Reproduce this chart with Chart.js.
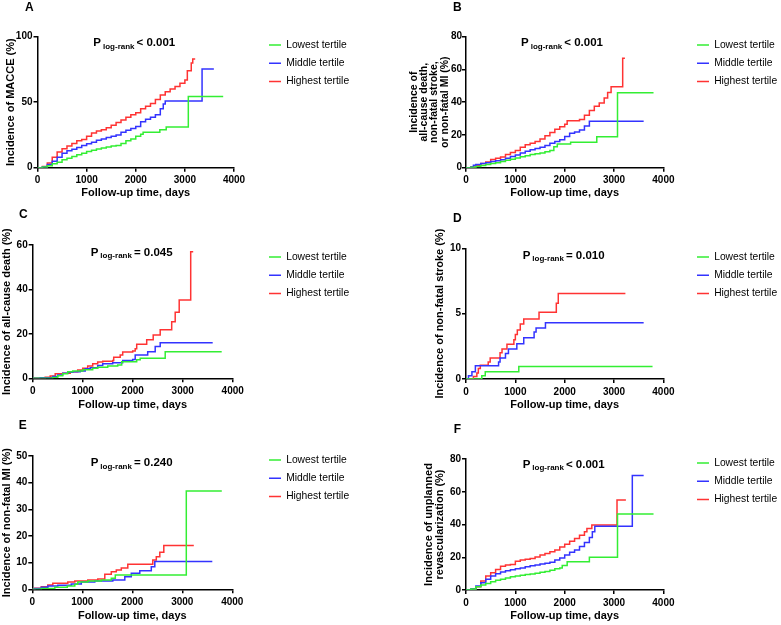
<!DOCTYPE html>
<html>
<head>
<meta charset="utf-8">
<script src="https://cdn.jsdelivr.net/npm/chart.js@4/dist/chart.umd.min.js"></script>
<style>
  html, body { margin: 0; padding: 0; background: #fff; overflow: hidden; width: 781px; height: 625px; position: relative; }
  canvas { position: absolute; }
</style>
</head>
<body>
<canvas id="cA"></canvas>
<canvas id="cB"></canvas>
<canvas id="cC"></canvas>
<canvas id="cD"></canvas>
<canvas id="cE"></canvas>
<canvas id="cF"></canvas>
<script>
/* data: days of each step, cumulative incidence (%) after the step */
// A - MACCE
var aLowDays = [0, 100, 200, 300, 400, 500, 600, 700, 800, 900, 1000, 1100, 1200, 1300, 1400, 1500, 1600, 1700, 1800, 1900, 2000, 2100, 2150, 2490, 2620, 3070, 3780];
var aLowPct  = [0, 0.5, 1.5, 3, 4.2, 6, 7.2, 8.5, 9.8, 11, 12.3, 13.3, 14.3, 15, 15.8, 16.5, 17, 18.5, 20.5, 22, 24, 25.5, 27, 29, 31, 54.3, 54.3];
var aMidDays = [0, 100, 200, 300, 400, 500, 600, 700, 800, 900, 1000, 1100, 1200, 1300, 1400, 1500, 1600, 1700, 1800, 1900, 2000, 2100, 2200, 2300, 2400, 2500, 2560, 2600, 3350, 3590];
var aMidPct  = [0, 0.8, 2.5, 5, 8, 11, 13, 14, 15.5, 17, 18.3, 19.5, 21, 22, 23, 24, 25, 27, 28.5, 30, 31.5, 35, 37, 38.5, 40.5, 45, 48.7, 51, 75.4, 75.4];
var aHighDays = [0, 100, 200, 300, 400, 500, 600, 700, 800, 900, 1000, 1100, 1200, 1300, 1400, 1500, 1600, 1700, 1800, 1900, 2000, 2100, 2200, 2300, 2400, 2500, 2600, 2700, 2800, 2900, 3000, 3050, 3130, 3160, 3210];
var aHighPct  = [0, 1, 3.5, 8, 12, 14.5, 16.5, 18.5, 20.5, 21.5, 24, 26.5, 28, 29, 30.5, 32.5, 34.5, 36.5, 38.5, 40.5, 42, 45, 47, 49, 52, 55.5, 58, 60, 62, 64.5, 67, 74, 80, 83, 83];

// B - all-cause death, non-fatal stroke or non-fatal MI
var bLowDays = [0, 100, 200, 300, 400, 500, 600, 700, 800, 900, 1000, 1100, 1200, 1300, 1400, 1500, 1600, 1700, 1780, 1850, 2120, 2650, 3070, 3800];
var bLowPct  = [0, 0.3, 0.8, 1.4, 2, 2.6, 3, 3.8, 4.5, 5.2, 6, 6.7, 7.3, 8, 8.5, 9, 9.8, 10.5, 12.8, 14.5, 15.5, 18.9, 45.8, 45.8];
var bMidDays = [0, 100, 150, 200, 300, 400, 500, 600, 700, 800, 900, 1000, 1100, 1200, 1300, 1400, 1500, 1600, 1700, 1800, 1900, 2000, 2100, 2200, 2300, 2400, 2500, 3600];
var bMidPct  = [0, 0.5, 1.5, 2, 2.5, 3, 3.8, 4.3, 4.8, 5.8, 6.8, 7.8, 9, 10, 11, 11.8, 12.5, 13.5, 15, 16, 17, 19, 21, 21.8, 23, 25.5, 28.3, 28.3];
var bHighDays = [0, 100, 200, 300, 400, 500, 600, 700, 800, 900, 1000, 1100, 1200, 1300, 1400, 1500, 1600, 1700, 1800, 1900, 2000, 2050, 2300, 2400, 2500, 2600, 2700, 2800, 2870, 2940, 3175, 3220];
var bHighPct  = [0, 0.5, 1.5, 2.5, 3.5, 5, 5.7, 6.5, 8, 9.3, 10.5, 12.5, 14, 15, 16, 17.5, 19.5, 21.5, 23.5, 25, 26.5, 28.7, 29.5, 32, 35, 37.5, 39.5, 42.5, 46, 49.5, 66.8, 66.8];

// C - all-cause death
var cLowDays = [0, 400, 500, 600, 700, 800, 1000, 1200, 1300, 1500, 1700, 1780, 2080, 2150, 2650, 3780];
var cLowPct  = [0, 0.4, 1.2, 2, 3, 3.3, 3.8, 4.5, 5, 5.5, 6, 7.5, 8.3, 9, 12, 12];
var cMidDays = [0, 150, 400, 500, 600, 700, 800, 950, 1050, 1150, 1300, 1400, 1600, 1800, 2000, 2050, 2300, 2450, 2550, 3600];
var cMidPct  = [0, 0.3, 0.8, 1.5, 2.3, 2.7, 3, 3.3, 4.3, 4.8, 5.8, 6.5, 7, 8, 8.5, 10.5, 12, 14.3, 16, 16];
var cHighDays = [0, 250, 350, 450, 600, 750, 900, 1000, 1100, 1200, 1300, 1400, 1600, 1620, 1750, 1800, 2000, 2050, 2080, 2280, 2410, 2550, 2780, 2850, 2930, 3160, 3210];
var cHighPct  = [0, 0.5, 1, 2, 2.3, 3, 3.7, 4.5, 5.5, 6.5, 7.3, 7.7, 8, 9.5, 10.5, 11.8, 12.3, 13.3, 15.3, 17.3, 19.5, 21.8, 25.5, 29.7, 35.3, 57, 57];

// D - non-fatal stroke
var dLowDays = [0, 320, 390, 1070, 3780];
var dLowPct  = [0, 0.25, 0.56, 0.95, 0.95];
var dMidDays = [0, 50, 120, 190, 660, 690, 800, 860, 1030, 1170, 1380, 1420, 1610, 3600];
var dMidPct  = [0, 0.25, 0.55, 1.02, 1.3, 1.6, 1.96, 2.3, 2.7, 3.16, 3.6, 3.9, 4.3, 4.3];
var dHighDays = [0, 150, 220, 250, 290, 450, 490, 690, 730, 830, 970, 1000, 1040, 1100, 1170, 1480, 1830, 1870, 3230];
var dHighPct  = [0, 0.2, 0.45, 0.8, 1.05, 1.3, 1.6, 2, 2.3, 2.65, 3, 3.4, 3.75, 4.2, 4.6, 5.1, 5.8, 6.55, 6.55];

// E - non-fatal MI
var eLowDays = [0, 180, 450, 700, 850, 910, 1110, 1380, 1580, 1660, 3080, 3790];
var eLowPct  = [0, 0.3, 0.75, 1.25, 1.9, 2.75, 3.1, 3.5, 4.1, 5.4, 36.9, 36.9];
var eMidDays = [0, 50, 180, 310, 510, 780, 980, 1250, 1610, 1850, 1980, 2150, 2380, 2450, 3600];
var eMidPct  = [0, 0.3, 0.75, 1.25, 1.5, 2, 2.75, 3.1, 3.5, 4.75, 6, 7, 8.5, 10.4, 10.4];
var eHighDays = [0, 50, 180, 310, 410, 710, 850, 1110, 1310, 1450, 1580, 1680, 1780, 1910, 2410, 2480, 2550, 2630, 3230];
var eHighPct  = [0, 0.4, 1, 1.6, 2.25, 2.75, 3.1, 3.5, 3.9, 5.6, 6.6, 7.25, 8, 9.4, 11, 12.25, 13.9, 16.4, 16.4];

// F - unplanned revascularization
var fLowDays = [0, 100, 200, 300, 400, 500, 600, 700, 800, 900, 1000, 1100, 1200, 1300, 1400, 1500, 1600, 1700, 1800, 1900, 1950, 2050, 2500, 3070, 3800];
var fLowPct  = [0, 0.6, 2, 3, 4, 5, 6, 6.5, 7.3, 8.1, 8.6, 9, 9.5, 9.8, 10.3, 10.8, 11.3, 12, 13, 13.5, 15, 17.3, 20, 46.4, 46.4];
var fMidDays = [0, 100, 200, 300, 400, 500, 600, 700, 800, 900, 1000, 1100, 1200, 1300, 1400, 1500, 1600, 1700, 1800, 1900, 2000, 2100, 2200, 2300, 2400, 2500, 2560, 2610, 3370, 3600];
var fMidPct  = [0, 0.8, 2.5, 4.5, 6.5, 8.5, 10, 11, 11.8, 12.3, 13, 13.5, 14.2, 14.8, 15.3, 15.9, 16.4, 17, 18.3, 19.5, 21.4, 23, 24.5, 26.5, 29, 32, 35.5, 39, 69.9, 69.9];
var fHighDays = [0, 150, 200, 300, 400, 500, 600, 700, 800, 900, 1000, 1100, 1200, 1300, 1400, 1500, 1600, 1700, 1800, 1900, 2000, 2100, 2200, 2300, 2400, 2450, 2550, 3060, 3240];
var fHighPct  = [0, 0, 2, 5.5, 8.5, 10.5, 12.5, 14.5, 15.3, 15.5, 17.5, 18.3, 18.8, 19.3, 20.2, 21.4, 22.3, 23.3, 24.5, 26.3, 28, 29.8, 31.5, 33.5, 35.5, 37.5, 39.7, 55, 55];

var tertiles = ['Lowest tertile', 'Middle tertile', 'Highest tertile'];
var lineColors = ['#33ee33', '#3333ff', '#ff3333'];
var xTicks = [0, 1000, 2000, 3000, 4000];

var FONT = "'Liberation Sans', Arial, sans-serif";
Chart.defaults.font.family = FONT;
Chart.defaults.color = '#000';

function pts(days, pct) {
  return days.map(function (d, i) { return { x: d, y: pct[i] }; });
}

// panel letter + P log-rank text
var pLabel = {
  id: 'pLabel',
  afterDraw: function (chart, args, o) {
    var ctx = chart.ctx;
    ctx.save();
    ctx.fillStyle = '#000';
    ctx.textBaseline = 'middle';
    ctx.textAlign = 'center';
    ctx.font = 'bold 12px ' + FONT;
    ctx.fillText(o.letter, o.lx, o.ly);
    ctx.textAlign = 'left';
    var x = o.px;
    ctx.font = 'bold 11.5px ' + FONT;
    ctx.fillText('P', x, o.py);
    x += ctx.measureText('P').width + 2;
    ctx.font = 'bold 8px ' + FONT;
    ctx.fillText('log-rank', x, o.py + 3);
    x += ctx.measureText('log-rank').width + 2;
    ctx.font = 'bold 11.5px ' + FONT;
    ctx.fillText(o.p, x, o.py);
    ctx.restore();
  }
};

function panel(o) {
  var cv = document.getElementById(o.id);
  cv.width = o.w;
  cv.height = o.h;
  cv.style.left = o.cx + 'px';
  cv.style.top = o.cy + 'px';
  var axisGrid = { display: true, drawOnChartArea: false, drawTicks: true, tickLength: 4, color: '#000', lineWidth: 1.5 };
  var axisBorder = { display: true, color: '#000', width: 1.5 };
  var hidden = { display: true, grid: { display: false }, border: { display: false }, ticks: { display: false } };
  new Chart(cv, {
    type: 'line',
    data: {
      datasets: [0, 1, 2].map(function (i) {
        return {
          label: tertiles[i],
          data: pts(o.series[i][0], o.series[i][1]),
          borderColor: lineColors[i],
          backgroundColor: lineColors[i],
          borderWidth: 1.5,
          pointRadius: 0,
          stepped: true,
          fill: false,
          xAxisID: 'x',
          yAxisID: 'y'
        };
      })
    },
    options: {
      responsive: false,
      animation: false,
      layout: { padding: { top: o.padTop, left: 0, right: 0, bottom: 0 } },
      plugins: {
        tooltip: { enabled: false },
        legend: {
          position: 'right',
          align: 'start',
          maxWidth: 88,
          labels: {
            usePointStyle: true,
            pointStyle: 'line',
            pointStyleWidth: 12,
            padding: 8,
            color: '#000',
            font: { size: 10.3, family: FONT }
          }
        },
        pLabel: { letter: o.letter, lx: o.lx, ly: o.ly, px: o.px, py: o.py, p: o.p }
      },
      scales: {
        x: {
          type: 'linear', position: 'bottom', min: 0, max: 4000,
          afterBuildTicks: function (s) { s.ticks = xTicks.map(function (v) { return { value: v }; }); },
          ticks: { autoSkip: false, maxRotation: 0, padding: 3, font: { size: 10, weight: 'bold' },
                   callback: function (v) { return String(v); } },
          grid: axisGrid, border: axisBorder,
          title: { display: true, text: 'Follow-up time, days', font: { size: 11, weight: 'bold', lineHeight: 1.2 }, padding: { top: 0, bottom: 5.4 } },
          afterFit: function (s) { s.height = o.xh; }
        },
        y: {
          type: 'linear', position: 'left', min: 0, max: o.ymax,
          ticks: { stepSize: o.ystep, padding: o.ytk, font: { size: 10, weight: 'bold' },
                   callback: function (v) { return String(v); } },
          grid: axisGrid, border: axisBorder,
          title: { display: true, text: o.ytitle, font: { size: o.yfs, weight: 'bold', lineHeight: o.ylh }, padding: { top: o.ytPad, bottom: 0 } },
          afterFit: function (s) { s.width = o.yw; }
        },
        x2: Object.assign({ type: 'linear', position: 'top', afterFit: function (s) { s.height = o.x2h; } }, hidden),
        y2: Object.assign({ type: 'linear', position: 'right', afterFit: function (s) { s.width = o.y2w; } }, hidden)
      }
    },
    plugins: [pLabel]
  });
}

panel({ id: 'cA', cx: 0, cy: 0, w: 349, h: 205, padTop: 31.85, x2h: 4.85, xh: 37.3, yw: 37.5, y2w: 27,
  ymax: 100, ystep: 50, ytitle: 'Incidence of MACCE (%)', yfs: 11, ylh: 1.2, ytPad: 4.1, ytk: 1,
  letter: 'A', lx: 29.3, ly: 7.5, px: 93.3, py: 43.3, p: '< 0.001',
  series: [[aLowDays, aLowPct], [aMidDays, aMidPct], [aHighDays, aHighPct]] });

panel({ id: 'cB', cx: 390, cy: 0, w: 387, h: 205, padTop: 31.85, x2h: 4.85, xh: 37.3, yw: 76, y2w: 25.6,
  ymax: 80, ystep: 20, ytitle: ['Incidence of', 'all-cause death,', 'non-fatal stroke,', 'or non-fatal MI (%)'], yfs: 10.5, ylh: 0.97, ytPad: 19, ytk: 0,
  letter: 'B', lx: 67.3, ly: 7.5, px: 131, py: 43.3, p: '< 0.001',
  series: [[bLowDays, bLowPct], [bMidDays, bMidPct], [bHighDays, bHighPct]] });

panel({ id: 'cC', cx: 0, cy: 205, w: 349, h: 212, padTop: 38.85, x2h: 1.15, xh: 38.7, yw: 32.7, y2w: 28.3,
  ymax: 60, ystep: 20, ytitle: 'Incidence of all-cause death (%)', yfs: 11, ylh: 1.2, ytPad: 0.7, ytk: 1,
  letter: 'C', lx: 23.3, ly: 10, px: 90.7, py: 47.7, p: '= 0.045',
  series: [[cLowDays, cLowPct], [cMidDays, cMidPct], [cHighDays, cHighPct]] });

panel({ id: 'cD', cx: 390, cy: 205, w: 387, h: 212, padTop: 38.85, x2h: 4.45, xh: 38, yw: 76, y2w: 25.6,
  ymax: 10, ystep: 5, ytitle: 'Incidence of non-fatal stroke (%)', yfs: 11, ylh: 1.2, ytPad: 43.4, ytk: 1,
  letter: 'D', lx: 67.3, ly: 13.3, px: 132.7, py: 50.7, p: '= 0.010',
  series: [[dLowDays, dLowPct], [dMidDays, dMidPct], [dHighDays, dHighPct]] });

panel({ id: 'cE', cx: 0, cy: 410, w: 349, h: 218, padTop: 36.85, x2h: 9.15, xh: 38.7, yw: 32.3, y2w: 28.7,
  ymax: 50, ystep: 10, ytitle: 'Incidence of non-fatal MI (%)', yfs: 11, ylh: 1.2, ytPad: 0.1, ytk: 1,
  letter: 'E', lx: 22.7, ly: 16, px: 90.7, py: 53.3, p: '= 0.240',
  series: [[eLowDays, eLowPct], [eMidDays, eMidPct], [eHighDays, eHighPct]] });

panel({ id: 'cF', cx: 390, cy: 410, w: 387, h: 218, padTop: 39.85, x2h: 9.15, xh: 38, yw: 76, y2w: 25.6,
  ymax: 80, ystep: 20, ytitle: ['Incidence of unplanned', 'revascularization (%)'], yfs: 11, ylh: 0.95, ytPad: 33.8, ytk: 1,
  letter: 'F', lx: 67.3, ly: 20, px: 132.7, py: 55, p: '< 0.001',
  series: [[fLowDays, fLowPct], [fMidDays, fMidPct], [fHighDays, fHighPct]] });
</script>
</body>
</html>
